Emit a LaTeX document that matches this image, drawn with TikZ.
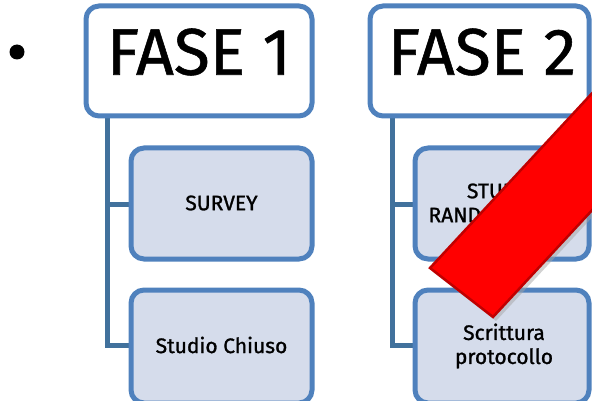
\documentclass[tikz,border=0pt]{standalone}
\usepackage{fontspec}
\setmainfont{Fira Sans}
\newfontfamily\medfont{Fira Sans}[UprightFeatures={FakeBold=1.2}]
\newfontfamily\bigfont{Fira Sans}[UprightFeatures={FakeBold=0.8}]
\definecolor{boxline}{HTML}{4F81BD}
\definecolor{conn}{HTML}{41719C}
\definecolor{childfill}{HTML}{D5DCEB}
\definecolor{bardark}{HTML}{C00000}
\tikzset{
  phasebox/.style={draw=boxline, line width=5pt, rounded corners=13pt, fill=white},
  childbox/.style={draw=boxline, line width=5pt, rounded corners=13pt, fill=childfill},
  connline/.style={draw=conn, line width=5pt},
  bigtxt/.style={font=\bigfont\fontsize{66}{70}\selectfont, inner sep=0pt},
  smalltxt/.style={font=\medfont\fontsize{21}{24}\selectfont, align=center, inner sep=0pt},
}
\begin{document}
\begin{tikzpicture}[x=1pt,y=-1pt]
\useasboundingbox (0,0) rectangle (592,401);
\clip (0,0) rectangle (592,401);
% bullet
\fill (17,52) circle (7.5);
% connectors FASE 1
\coordinate (v1top) at (107,116);
\coordinate (v1a) at (107,204);
\coordinate (v1b) at (107,345);
\draw[connline] (v1top) -- (v1b) -- (132,345);
\draw[connline] (v1a) -- (132,204);
% connectors FASE 2
\coordinate (v2top) at (392,116);
\coordinate (v2a) at (392,204);
\coordinate (v2b) at (392,345);
\draw[connline] (v2top) -- (v2b) -- (416,345);
\draw[connline] (v2a) -- (416,204);
% FASE 1
\draw[phasebox] (86,6) rectangle (312,116);
\node[bigtxt] (f1) at (199,52) {FASE 1};
\draw[childbox] (131,148) rectangle (312,259);
\node[smalltxt] (c11) at (221.5,203) {SURVEY};
\draw[childbox] (131,290) rectangle (312,403);
\node[smalltxt] (c12) at (221.5,345) {Studio Chiuso};
% FASE 2
\draw[phasebox] (370,6) rectangle (589,116);
\node[bigtxt] (f2) at (482,52) {FASE 2};
\draw[childbox] (415,148) rectangle (589,259);
\node[smalltxt] (c21) at (502,203) {STUDIO\\RANDOMIZZATO};
\draw[childbox] (415,290) rectangle (589,403);
\node[smalltxt] (c22) at (504,346) {Scrittura\\protocollo};
% red cross-out bar
\fill[black!35, opacity=0.5] (433,272) -- (496,321) -- (739,59) -- (676,10) -- cycle;
\draw[fill=red, draw=bardark, line width=2.5pt, line join=miter]
  (430,268) -- (493,317) -- (736,55) -- (673,6) -- cycle;
\end{tikzpicture}
\end{document}
